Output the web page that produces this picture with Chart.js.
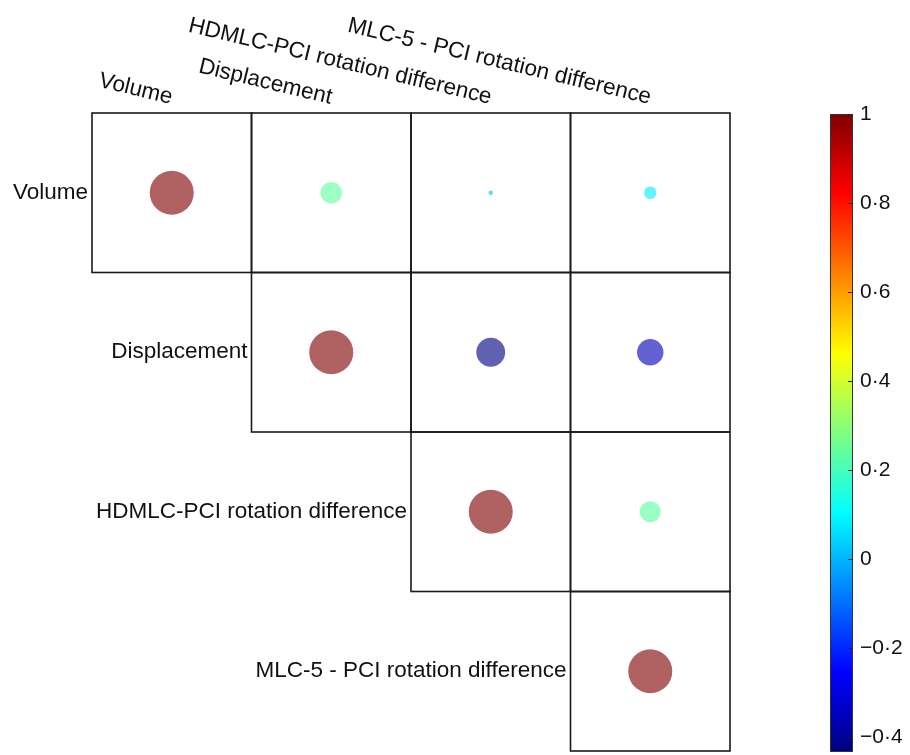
<!DOCTYPE html>
<html>
<head>
<meta charset="utf-8">
<script src="https://cdn.jsdelivr.net/npm/chart.js@4/dist/chart.umd.min.js"></script>
<style>
    html, body { margin: 0; background: #ffffff; overflow: hidden; }
    #contenedor { position: relative; width: 910px; height: 755px; overflow: hidden; }
    #graficoCorrelacion { position: absolute; left: 0; top: 0; }
    #barraColor { position: absolute; left: 830px; top: 84px; }
</style>
</head>
<body>
<div id="contenedor">
    <canvas id="graficoCorrelacion" width="910" height="755"></canvas>
    <canvas id="barraColor" width="80" height="700"></canvas>
</div>
<script>
// Variables compared, in row/column order
const variables = ['Volume', 'Displacement', 'HDMLC-PCI rotation difference', 'MLC-5 - PCI rotation difference'];

// Upper-triangle correlation rows (null = lower triangle, not drawn)
const corrVolume       = [1,    0.24, 0.01,  0.08];
const corrDisplacement = [null, 1,    -0.43, -0.36];
const corrHdmlc        = [null, null, 1,     0.23];
const corrMlc5         = [null, null, null,  1];

// Colour scale range and colorbar tick values
const colorMin = -0.434;
const colorMax = 1;
const colorbarTicks = [-0.4, -0.2, 0, 0.2, 0.4, 0.6, 0.8, 1];

const FONT = '"Liberation Sans", Arial, Helvetica, sans-serif';

document.addEventListener("DOMContentLoaded", function () {

    // ==========================================================================
    // JET COLOUR MAP
    // ==========================================================================
    function jet(value) {
        const t = Math.min(1, Math.max(0, (value - colorMin) / (colorMax - colorMin)));
        const c = v => Math.round(255 * Math.min(1, Math.max(0, v)));
        return [c(1.5 - Math.abs(4 * t - 3)), c(1.5 - Math.abs(4 * t - 2)), c(1.5 - Math.abs(4 * t - 1))];
    }
    function jetRgba(value, alpha) {
        const [r, g, b] = jet(value);
        return `rgba(${r}, ${g}, ${b}, ${alpha})`;
    }

    // Build the point list from the rows
    const filas = [corrVolume, corrDisplacement, corrHdmlc, corrMlc5];
    const puntos = [];
    filas.forEach((fila, i) => {
        fila.forEach((valor, j) => {
            if (valor !== null) puntos.push({ x: j, y: i, v: valor });
        });
    });

    // ==========================================================================
    // PLUGIN: CELL BOXES AND VARIABLE LABELS
    // ==========================================================================
    const pluginRejilla = {
        id: 'rejilla',
        beforeDatasetsDraw(chart) {
            const { ctx, scales: { x, y } } = chart;
            ctx.save();
            ctx.strokeStyle = '#1a1a1a';
            ctx.lineWidth = 1.6;
            filas.forEach((fila, i) => {
                fila.forEach((valor, j) => {
                    if (valor === null) return;
                    const x0 = x.getPixelForValue(j - 0.5);
                    const x1 = x.getPixelForValue(j + 0.5);
                    const y0 = y.getPixelForValue(i - 0.5);
                    const y1 = y.getPixelForValue(i + 0.5);
                    ctx.strokeRect(x0, y0, x1 - x0, y1 - y0);
                });
            });
            ctx.restore();
        },
        afterDraw(chart) {
            const { ctx, scales: { x, y } } = chart;
            ctx.save();
            ctx.fillStyle = '#111111';
            ctx.font = `22.5px ${FONT}`;

            // Row labels, right-aligned against the first cell of each row
            ctx.textAlign = 'right';
            ctx.textBaseline = 'middle';
            variables.forEach((nombre, i) => {
                ctx.fillText(nombre, x.getPixelForValue(i - 0.5) - 4, y.getPixelForValue(i));
            });

            // Column labels, tilted and ending over the column centre
            const topeY = y.getPixelForValue(-0.5);
            variables.forEach((nombre, j) => {
                ctx.save();
                ctx.translate(x.getPixelForValue(j) - 1, topeY - 9);
                ctx.rotate(13.5 * Math.PI / 180);
                ctx.textAlign = 'right';
                ctx.textBaseline = 'alphabetic';
                ctx.fillText(nombre, 0, 0);
                ctx.restore();
            });
            ctx.restore();
        }
    };

    // ==========================================================================
    // MAIN CORRELATION CHART
    // ==========================================================================
    new Chart(document.getElementById('graficoCorrelacion'), {
        type: 'scatter',
        data: {
            datasets: [{
                data: puntos,
                backgroundColor: c => jetRgba(c.raw.v, 0.62),
                borderWidth: 0,
                pointBorderWidth: 0,
                pointRadius: c => {
                    const escalaX = c.chart.scales.x;
                    const celda = Math.abs(escalaX.getPixelForValue(1) - escalaX.getPixelForValue(0));
                    return Math.sqrt(Math.abs(c.raw.v)) * 0.138 * celda;
                }
            }]
        },
        options: {
            responsive: false,
            animation: false,
            events: [],
            layout: { padding: { left: 92, right: 180, top: 113, bottom: 4 } },
            plugins: { legend: { display: false }, tooltip: { enabled: false } },
            scales: {
                x: { display: false, min: -0.5, max: 3.5 },
                y: { display: false, min: -0.5, max: 3.5, reverse: true }
            }
        },
        plugins: [pluginRejilla]
    });

    // ==========================================================================
    // COLORBAR
    // ==========================================================================
    const pluginBarra = {
        id: 'barraJet',
        beforeDatasetsDraw(chart) {
            const { ctx, chartArea: a, scales: { y } } = chart;
            const grad = ctx.createLinearGradient(0, a.bottom, 0, a.top);
            for (let k = 0; k <= 64; k++) {
                const v = colorMin + (colorMax - colorMin) * k / 64;
                grad.addColorStop(k / 64, jetRgba(v, 1));
            }
            ctx.save();
            ctx.fillStyle = grad;
            ctx.fillRect(a.left, a.top, a.right - a.left, a.bottom - a.top);
            ctx.strokeStyle = '#333333';
            ctx.lineWidth = 1;
            ctx.strokeRect(a.left + 0.5, a.top + 0.5, a.right - a.left - 1, a.bottom - a.top - 1);
            // Small inner tick marks on the right edge
            ctx.strokeStyle = '#222222';
            colorbarTicks.forEach(v => {
                const py = Math.round(y.getPixelForValue(v)) + 0.5;
                ctx.beginPath();
                ctx.moveTo(a.right - 5, py);
                ctx.lineTo(a.right, py);
                ctx.stroke();
            });
            ctx.restore();
        }
    };

    function formatoTick(v) {
        if (Math.abs(v) < 1e-9) return '0';
        if (v === 1) return '1';
        const txt = Math.abs(v).toFixed(1).replace('.', '\u00B7');
        return (v < 0 ? '\u2212' : '') + txt;
    }

    new Chart(document.getElementById('barraColor'), {
        type: 'scatter',
        data: { datasets: [{ data: [] }] },
        options: {
            responsive: false,
            animation: false,
            events: [],
            layout: { padding: { left: 0, right: 0, top: 30, bottom: 32 } },
            plugins: { legend: { display: false }, tooltip: { enabled: false } },
            scales: {
                x: { display: false, min: 0, max: 1 },
                y: {
                    position: 'right',
                    min: colorMin,
                    max: colorMax,
                    afterFit: s => { s.width = 57; },
                    afterBuildTicks: s => { s.ticks = colorbarTicks.map(v => ({ value: v })); },
                    grid: { display: false, drawTicks: false },
                    border: { display: false },
                    ticks: {
                        padding: 7,
                        color: '#111111',
                        font: { family: FONT, size: 21 },
                        callback: v => formatoTick(v)
                    }
                }
            }
        },
        plugins: [pluginBarra]
    });
});
</script>
</body>
</html>
